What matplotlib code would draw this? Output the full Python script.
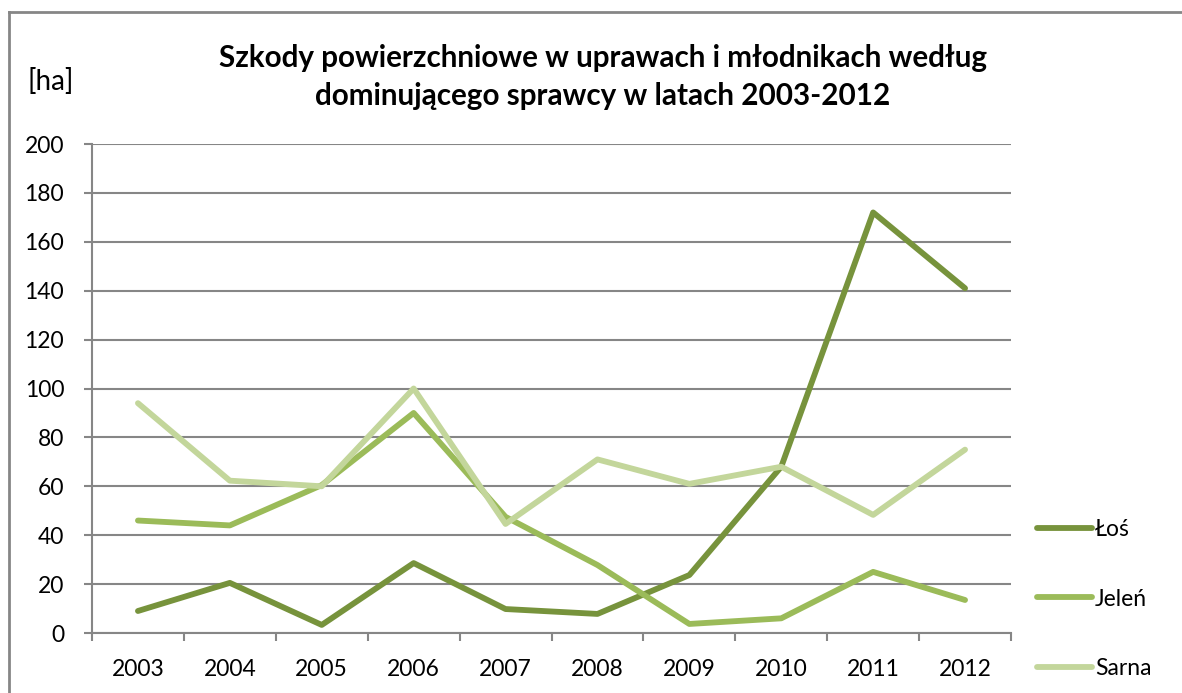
import matplotlib.pyplot as plt
from matplotlib.lines import Line2D

years = ['2003', '2004', '2005', '2006', '2007', '2008', '2009', '2010', '2011', '2012']
los = [9, 20.5, 3.3, 28.6, 9.8, 7.8, 23.7, 68, 172, 141]
jelen = [46, 44, 60.5, 90, 47.5, 27.8, 3.7, 6, 25, 13.5]
sarna = [94, 62.3, 60, 100, 44.6, 71, 61, 68, 48.3, 75]

plt.rcParams['font.family'] = ['Lato', 'DejaVu Sans']

W, H = 1182, 693
fig = plt.figure(figsize=(W / 100, H / 100), dpi=100)
ax = fig.add_axes([92 / W, 1 - 633 / H, (1011 - 92) / W, (633 - 144) / H])

x = range(len(years))
grid_c = '#868686'
ax.plot(x, los, color='#77933C', lw=4.2, label='Łoś', solid_capstyle='round', solid_joinstyle='round')
ax.plot(x, jelen, color='#9BBB59', lw=4.2, label='Jeleń', solid_capstyle='round', solid_joinstyle='round')
ax.plot(x, sarna, color='#C3D69B', lw=4.2, label='Sarna', solid_capstyle='round', solid_joinstyle='round')

ax.set_xlim(-0.5, len(years) - 0.5)
ax.set_ylim(0, 200)
ax.set_yticks(range(0, 201, 20))
ax.set_yticklabels([str(v) for v in range(0, 201, 20)], fontsize=16.5)
ax.set_xticks([i - 0.5 for i in range(len(years) + 1)], minor=False)
ax.set_xticklabels([])
ax.set_xticks(list(x), minor=True)
ax.set_xticklabels(years, minor=True, fontsize=16.5)
ax.tick_params(axis='x', which='minor', length=0, pad=19)
ax.tick_params(axis='x', which='major', length=6, color=grid_c, width=1.5)
ax.tick_params(axis='y', length=6, color=grid_c, width=1.5, pad=14)

ax.yaxis.grid(True, color=grid_c, lw=1.5)
ax.set_axisbelow(True)
for s in ['top', 'right']:
    ax.spines[s].set_visible(False)
for s in ['left', 'bottom']:
    ax.spines[s].set_color(grid_c)
    ax.spines[s].set_linewidth(1.5)

leg = fig.legend(loc='center left', bbox_to_anchor=(1016 / W, 1 - 599 / H), frameon=False,
                 fontsize=16.5, handlelength=2.4, handletextpad=0.15, labelspacing=2.12)

fig.text(603 / W, 1 - 77 / H, 'Szkody powierzchniowe w uprawach i młodnikach według\ndominującego sprawcy w latach 2003-2012',
         ha='center', va='center', fontsize=21.3, fontweight='bold', linespacing=1.45)
fig.text(27 / W, 1 - 81 / H, '[ha]', ha='left', va='center', fontsize=20)

# outer chart border
fig.add_artist(Line2D([8.5 / W, 8.5 / W], [0, 1 - 12 / H], color=grid_c, lw=2, transform=fig.transFigure))
fig.add_artist(Line2D([8.5 / W, 1], [1 - 12 / H, 1 - 12 / H], color=grid_c, lw=2, transform=fig.transFigure))

fig.savefig('out.png', dpi=100)
